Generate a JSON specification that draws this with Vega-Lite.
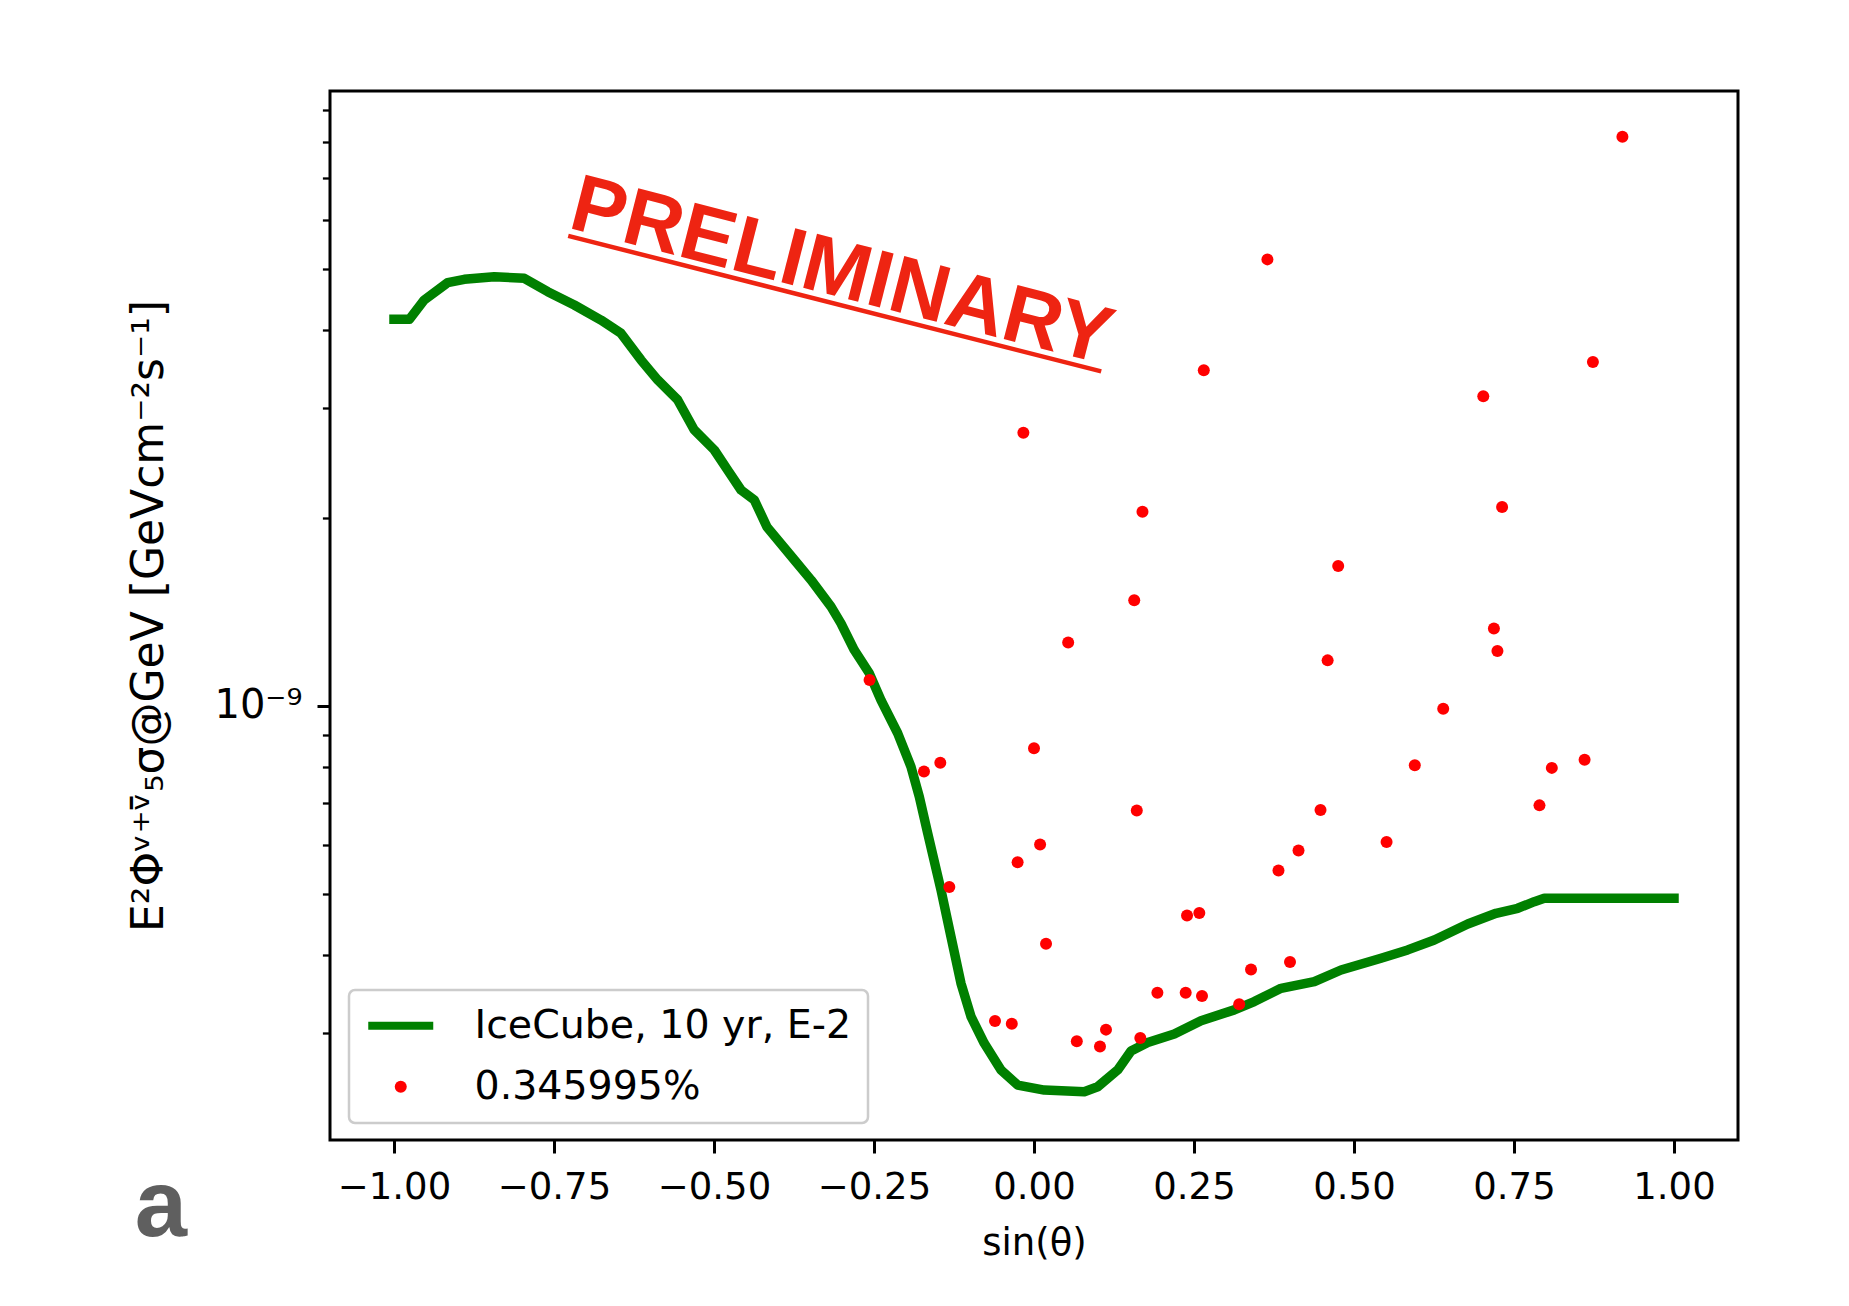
{
  "$schema": "https://vega.github.io/schema/vega-lite/v6.json",
  "width": 1408,
  "height": 1049,
  "autosize": {"type": "none"},
  "padding": {"left": 330, "top": 91, "right": 111, "bottom": 166},
  "background": "white",
  "datasets": {
    "green": [
      {"x": -1.0, "y": 4.156e-9, "s": "IceCube, 10 yr, E-2"},
      {"x": -0.976, "y": 4.156e-9, "s": "IceCube, 10 yr, E-2"},
      {"x": -0.9527, "y": 4.463e-9, "s": "IceCube, 10 yr, E-2"},
      {"x": -0.9161, "y": 4.757e-9, "s": "IceCube, 10 yr, E-2"},
      {"x": -0.8902, "y": 4.816e-9, "s": "IceCube, 10 yr, E-2"},
      {"x": -0.8433, "y": 4.863e-9, "s": "IceCube, 10 yr, E-2"},
      {"x": -0.7964, "y": 4.834e-9, "s": "IceCube, 10 yr, E-2"},
      {"x": -0.7598, "y": 4.601e-9, "s": "IceCube, 10 yr, E-2"},
      {"x": -0.7183, "y": 4.381e-9, "s": "IceCube, 10 yr, E-2"},
      {"x": -0.6766, "y": 4.145e-9, "s": "IceCube, 10 yr, E-2"},
      {"x": -0.6453, "y": 3.947e-9, "s": "IceCube, 10 yr, E-2"},
      {"x": -0.6141, "y": 3.578e-9, "s": "IceCube, 10 yr, E-2"},
      {"x": -0.588, "y": 3.324e-9, "s": "IceCube, 10 yr, E-2"},
      {"x": -0.5567, "y": 3.088e-9, "s": "IceCube, 10 yr, E-2"},
      {"x": -0.5308, "y": 2.765e-9, "s": "IceCube, 10 yr, E-2"},
      {"x": -0.4995, "y": 2.568e-9, "s": "IceCube, 10 yr, E-2"},
      {"x": -0.4786, "y": 2.385e-9, "s": "IceCube, 10 yr, E-2"},
      {"x": -0.4578, "y": 2.216e-9, "s": "IceCube, 10 yr, E-2"},
      {"x": -0.437, "y": 2.136e-9, "s": "IceCube, 10 yr, E-2"},
      {"x": -0.4172, "y": 1.934e-9, "s": "IceCube, 10 yr, E-2"},
      {"x": -0.3745, "y": 1.713e-9, "s": "IceCube, 10 yr, E-2"},
      {"x": -0.3484, "y": 1.591e-9, "s": "IceCube, 10 yr, E-2"},
      {"x": -0.3172, "y": 1.442e-9, "s": "IceCube, 10 yr, E-2"},
      {"x": -0.3016, "y": 1.356e-9, "s": "IceCube, 10 yr, E-2"},
      {"x": -0.2808, "y": 1.229e-9, "s": "IceCube, 10 yr, E-2"},
      {"x": -0.2573, "y": 1.128e-9, "s": "IceCube, 10 yr, E-2"},
      {"x": -0.2391, "y": 1.022e-9, "s": "IceCube, 10 yr, E-2"},
      {"x": -0.213, "y": 9.044e-10, "s": "IceCube, 10 yr, E-2"},
      {"x": -0.1922, "y": 7.996e-10, "s": "IceCube, 10 yr, E-2"},
      {"x": -0.1792, "y": 7.158e-10, "s": "IceCube, 10 yr, E-2"},
      {"x": -0.1661, "y": 6.257e-10, "s": "IceCube, 10 yr, E-2"},
      {"x": -0.1453, "y": 5.077e-10, "s": "IceCube, 10 yr, E-2"},
      {"x": -0.1297, "y": 4.274e-10, "s": "IceCube, 10 yr, E-2"},
      {"x": -0.1141, "y": 3.6e-10, "s": "IceCube, 10 yr, E-2"},
      {"x": -0.0984, "y": 3.184e-10, "s": "IceCube, 10 yr, E-2"},
      {"x": -0.0777, "y": 2.886e-10, "s": "IceCube, 10 yr, E-2"},
      {"x": -0.0516, "y": 2.616e-10, "s": "IceCube, 10 yr, E-2"},
      {"x": -0.0255, "y": 2.474e-10, "s": "IceCube, 10 yr, E-2"},
      {"x": 0.0161, "y": 2.429e-10, "s": "IceCube, 10 yr, E-2"},
      {"x": 0.0786, "y": 2.414e-10, "s": "IceCube, 10 yr, E-2"},
      {"x": 0.0995, "y": 2.459e-10, "s": "IceCube, 10 yr, E-2"},
      {"x": 0.1308, "y": 2.616e-10, "s": "IceCube, 10 yr, E-2"},
      {"x": 0.1516, "y": 2.805e-10, "s": "IceCube, 10 yr, E-2"},
      {"x": 0.1777, "y": 2.894e-10, "s": "IceCube, 10 yr, E-2"},
      {"x": 0.2192, "y": 2.986e-10, "s": "IceCube, 10 yr, E-2"},
      {"x": 0.2609, "y": 3.135e-10, "s": "IceCube, 10 yr, E-2"},
      {"x": 0.313, "y": 3.264e-10, "s": "IceCube, 10 yr, E-2"},
      {"x": 0.3442, "y": 3.365e-10, "s": "IceCube, 10 yr, E-2"},
      {"x": 0.3859, "y": 3.534e-10, "s": "IceCube, 10 yr, E-2"},
      {"x": 0.438, "y": 3.621e-10, "s": "IceCube, 10 yr, E-2"},
      {"x": 0.4797, "y": 3.781e-10, "s": "IceCube, 10 yr, E-2"},
      {"x": 0.5422, "y": 3.948e-10, "s": "IceCube, 10 yr, E-2"},
      {"x": 0.5839, "y": 4.071e-10, "s": "IceCube, 10 yr, E-2"},
      {"x": 0.6255, "y": 4.222e-10, "s": "IceCube, 10 yr, E-2"},
      {"x": 0.6777, "y": 4.478e-10, "s": "IceCube, 10 yr, E-2"},
      {"x": 0.7219, "y": 4.659e-10, "s": "IceCube, 10 yr, E-2"},
      {"x": 0.7558, "y": 4.746e-10, "s": "IceCube, 10 yr, E-2"},
      {"x": 0.7817, "y": 4.863e-10, "s": "IceCube, 10 yr, E-2"},
      {"x": 0.7973, "y": 4.924e-10, "s": "IceCube, 10 yr, E-2"},
      {"x": 1.0, "y": 4.924e-10, "s": "IceCube, 10 yr, E-2"}
    ],
    "red": [
      {"x": 0.9194, "y": 8.141e-9, "s": "0.345995%"},
      {"x": 0.3647, "y": 5.183e-9, "s": "0.345995%"},
      {"x": 0.2653, "y": 3.444e-9, "s": "0.345995%"},
      {"x": 0.8733, "y": 3.551e-9, "s": "0.345995%"},
      {"x": 0.702, "y": 3.131e-9, "s": "0.345995%"},
      {"x": -0.0166, "y": 2.736e-9, "s": "0.345995%"},
      {"x": 0.1695, "y": 2.045e-9, "s": "0.345995%"},
      {"x": 0.7314, "y": 2.082e-9, "s": "0.345995%"},
      {"x": 0.4753, "y": 1.675e-9, "s": "0.345995%"},
      {"x": 0.1566, "y": 1.476e-9, "s": "0.345995%"},
      {"x": 0.0534, "y": 1.263e-9, "s": "0.345995%"},
      {"x": 0.7186, "y": 1.33e-9, "s": "0.345995%"},
      {"x": 0.7241, "y": 1.225e-9, "s": "0.345995%"},
      {"x": 0.4588, "y": 1.183e-9, "s": "0.345995%"},
      {"x": 0.6394, "y": 9.9e-10, "s": "0.345995%"},
      {"x": -0.2569, "y": 1.1e-9, "s": "0.345995%"},
      {"x": 0.0, "y": 8.557e-10, "s": "0.345995%"},
      {"x": -0.1464, "y": 8.113e-10, "s": "0.345995%"},
      {"x": -0.1719, "y": 7.856e-10, "s": "0.345995%"},
      {"x": 0.8603, "y": 8.205e-10, "s": "0.345995%"},
      {"x": 0.8091, "y": 7.961e-10, "s": "0.345995%"},
      {"x": 0.595, "y": 8.038e-10, "s": "0.345995%"},
      {"x": 0.1606, "y": 6.805e-10, "s": "0.345995%"},
      {"x": 0.4477, "y": 6.818e-10, "s": "0.345995%"},
      {"x": 0.7898, "y": 6.934e-10, "s": "0.345995%"},
      {"x": 0.0095, "y": 6.002e-10, "s": "0.345995%"},
      {"x": 0.5509, "y": 6.06e-10, "s": "0.345995%"},
      {"x": 0.4133, "y": 5.873e-10, "s": "0.345995%"},
      {"x": -0.0256, "y": 5.624e-10, "s": "0.345995%"},
      {"x": 0.382, "y": 5.454e-10, "s": "0.345995%"},
      {"x": -0.1323, "y": 5.133e-10, "s": "0.345995%"},
      {"x": 0.2391, "y": 4.622e-10, "s": "0.345995%"},
      {"x": 0.2583, "y": 4.665e-10, "s": "0.345995%"},
      {"x": 0.0188, "y": 4.164e-10, "s": "0.345995%"},
      {"x": 0.4, "y": 3.894e-10, "s": "0.345995%"},
      {"x": 0.3391, "y": 3.787e-10, "s": "0.345995%"},
      {"x": 0.1928, "y": 3.477e-10, "s": "0.345995%"},
      {"x": 0.237, "y": 3.477e-10, "s": "0.345995%"},
      {"x": 0.2625, "y": 3.436e-10, "s": "0.345995%"},
      {"x": -0.0609, "y": 3.133e-10, "s": "0.345995%"},
      {"x": -0.0347, "y": 3.101e-10, "s": "0.345995%"},
      {"x": 0.3206, "y": 3.332e-10, "s": "0.345995%"},
      {"x": 0.1661, "y": 2.944e-10, "s": "0.345995%"},
      {"x": 0.0669, "y": 2.909e-10, "s": "0.345995%"},
      {"x": 0.1125, "y": 3.035e-10, "s": "0.345995%"},
      {"x": 0.1031, "y": 2.853e-10, "s": "0.345995%"}
    ],
    "prelim": [{"x": -0.73, "y": 5.827e-9, "t": "PRELIMINARY"}],
    "underline": [{"x": -0.7278, "y": 5.653e-9, "x2": 0.105, "y2": 3.43e-9}],
    "panel": [{"x": -1.3641, "y": 1.419e-10, "t": "a"}]
  },
  "encoding": {
    "x": {
      "field": "x",
      "type": "quantitative",
      "scale": {"domain": [-1.1, 1.1], "nice": false, "zero": false},
      "axis": {
        "title": "sin(θ)",
        "values": [-1, -0.75, -0.5, -0.25, 0, 0.25, 0.5, 0.75, 1],
        "format": ".2f",
        "grid": false,
        "domain": false,
        "tickSize": 13,
        "tickWidth": 3,
        "tickColor": "black",
        "labelFont": "DejaVu Sans",
        "labelFontSize": 37,
        "labelColor": "black",
        "labelPadding": 16,
        "labelFlush": false,
        "labelOverlap": false,
        "titleFont": "DejaVu Sans",
        "titleFontSize": 37,
        "titleFontWeight": "normal",
        "titleColor": "black",
        "titlePadding": 20
      }
    },
    "y": {
      "field": "y",
      "type": "quantitative",
      "scale": {"type": "log", "domain": [2.021e-10, 9.638e-9], "nice": false},
      "axis": {
        "title": "E²Φᵛ⁺ᵛ̄₅σ@GeV [GeVcm⁻²s⁻¹]",
        "values": [3e-10, 4e-10, 5e-10, 6e-10, 7e-10, 8e-10, 9e-10, 1e-9, 2e-9, 3e-9, 4e-9, 5e-9, 6e-9, 7e-9, 8e-9, 9e-9],
        "labelExpr": "abs(datum.value - 1e-9) < 1e-12 ? '10⁻⁹' : ''",
        "grid": false,
        "domain": false,
        "tickSize": {"condition": {"test": "abs(datum.value - 1e-9) < 1e-12", "value": 13}, "value": 7.6},
        "tickWidth": {"condition": {"test": "abs(datum.value - 1e-9) < 1e-12", "value": 3}, "value": 2.3},
        "tickColor": "black",
        "labelFont": "DejaVu Sans",
        "labelFontSize": 40,
        "labelColor": "black",
        "labelPadding": 15,
        "labelOverlap": false,
        "titleFont": "DejaVu Sans",
        "titleFontSize": 44,
        "titleFontWeight": "normal",
        "titleColor": "black",
        "titlePadding": 42
      }
    }
  },
  "layer": [
    {
      "data": {"name": "green"},
      "mark": {"type": "line", "strokeWidth": 9.5, "strokeCap": "square", "strokeJoin": "round"},
      "encoding": {
        "color": {
          "field": "s",
          "type": "nominal",
          "scale": {"domain": ["IceCube, 10 yr, E-2", "0.345995%"], "range": ["#008000", "#ff0000"]},
          "legend": {
            "title": null,
            "orient": "none",
            "legendX": 19,
            "legendY": 899,
            "labelFont": "DejaVu Sans",
            "labelFontSize": 39.5,
            "labelColor": "black",
            "labelLimit": 1000,
            "symbolSize": 4225,
            "symbolType": "stroke",
            "symbolStrokeWidth": 9.5,
            "symbolOffset": 16,
            "labelOffset": 54,
            "rowPadding": 20,
            "padding": 16,
            "strokeColor": "#cccccc",
            "fillColor": "rgba(255,255,255,0.8)",
            "cornerRadius": 6,
            "encode": {
              "symbols": {
                "update": {
                  "shape": {"signal": "datum.value == 'IceCube, 10 yr, E-2' ? 'stroke' : 'circle'"},
                  "size": {"signal": "datum.value == 'IceCube, 10 yr, E-2' ? 4225 : 144"},
                  "fill": {"signal": "datum.value == 'IceCube, 10 yr, E-2' ? 'transparent' : '#ff0000'"},
                  "stroke": {"signal": "datum.value == 'IceCube, 10 yr, E-2' ? '#008000' : 'transparent'"},
                  "strokeWidth": {"signal": "datum.value == 'IceCube, 10 yr, E-2' ? 8 : 0"},
                  "opacity": {"value": 1}
                }
              }
            }
          }
        }
      }
    },
    {
      "data": {"name": "red"},
      "mark": {"type": "point", "filled": true, "size": 144, "opacity": 1},
      "encoding": {
        "color": {"field": "s", "type": "nominal"}
      }
    },
    {
      "data": {"name": "underline"},
      "mark": {"type": "rule", "color": "#ee2412", "strokeWidth": 4.5},
      "encoding": {
        "x2": {"field": "x2"},
        "y2": {"field": "y2"}
      }
    },
    {
      "data": {"name": "prelim"},
      "mark": {"type": "text", "font": "Liberation Sans", "fontWeight": "bold", "fontSize": 81, "angle": 14.3, "align": "left", "baseline": "alphabetic", "color": "#ee2412"},
      "encoding": {"text": {"field": "t", "type": "nominal"}}
    },
    {
      "data": {"name": "panel"},
      "mark": {"type": "text", "font": "Liberation Sans", "fontWeight": "bold", "fontSize": 94, "align": "center", "baseline": "alphabetic", "color": "#5f5f5f"},
      "encoding": {"text": {"field": "t", "type": "nominal"}}
    }
  ],
  "config": {
    "view": {"stroke": "black", "strokeWidth": 3},
    "legend": {"strokeWidth": 2.5}
  }
}
